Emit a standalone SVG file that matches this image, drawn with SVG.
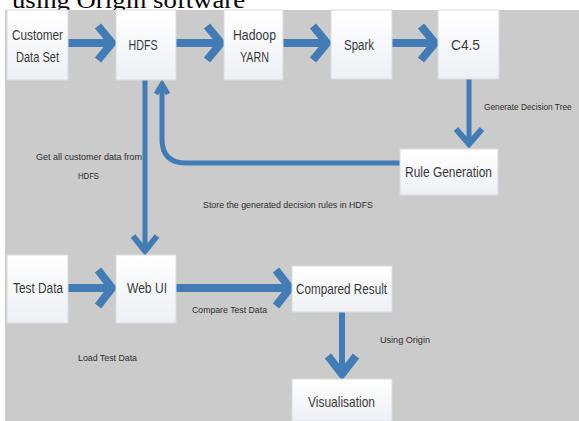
<svg xmlns="http://www.w3.org/2000/svg" width="579" height="421" viewBox="0 0 579 421">
<defs>
<linearGradient id="nodeFill" x1="0" y1="0" x2="0" y2="1">
<stop offset="0" stop-color="#ffffff"/>
<stop offset="1" stop-color="#eef0f5"/>
</linearGradient>
<style>
.bg{fill:#cbcbcb}
.node{fill:url(#nodeFill);stroke:#d8dbe0;stroke-width:1}
.nt{font-family:"Liberation Sans",Arial,sans-serif;font-size:14px;fill:#3a3a3a;text-anchor:middle}
.lbl{font-family:"Liberation Sans",Arial,sans-serif;font-size:9px;fill:#2e2e2e}
.cap{font-family:"Liberation Serif","Times New Roman",serif;font-size:24px;fill:#000}
.thick{fill:none;stroke:#417cb6;stroke-width:8}
.mid{fill:none;stroke:#417cb6;stroke-width:6}
.thin{fill:none;stroke:#417cb6;stroke-width:5}
</style>
</defs>
<text class="cap" x="12" y="8" textLength="233" lengthAdjust="spacingAndGlyphs">using Origin software</text>
<rect class="bg" x="5" y="10" width="574" height="411"/>

<g id="connectors">
<path class="thick" d="M68,43 H110"/>
<path class="thick" d="M98,26 L112,43 L98,60"/>
<path class="thick" d="M176,43 H220"/>
<path class="thick" d="M207,26 L221,43 L207,60"/>
<path class="thick" d="M283,43 H327"/>
<path class="thick" d="M313,26 L327,43 L313,60"/>
<path class="thick" d="M392,43 H434"/>
<path class="thick" d="M421,26 L435,43 L421,60"/>
<path class="thin" d="M469,79 V143"/>
<path class="mid" d="M456,129 L469,144 L482,129"/>
<path class="thin" d="M400,163 H186 Q162,163 162,139 V84"/>
<path class="thin" d="M156,94 L162,84 L168,94"/>
<path class="thin" d="M145,80 V250"/>
<path class="mid" d="M133,236 L145,251 L157,236"/>
<path class="thick" d="M68,288 H110"/>
<path class="thick" d="M98,270 L112,288 L98,306"/>
<path class="thick" d="M176,288 H287"/>
<path class="thick" d="M276,270 L290,288 L276,306"/>
<path class="mid" d="M342,312 V374"/>
<path class="thick" d="M328,356 L342,374 L356,356"/>
</g>

<g id="node-customer">
<rect class="node" x="7" y="10" width="61" height="70"/>
<text class="nt" x="37.5" y="40" textLength="51" lengthAdjust="spacingAndGlyphs">Customer</text>
<text class="nt" x="37.5" y="62" textLength="43" lengthAdjust="spacingAndGlyphs">Data Set</text>
</g>
<g id="node-hdfs">
<rect class="node" x="116" y="10" width="60" height="70"/>
<text class="nt" x="143" y="50" textLength="29" lengthAdjust="spacingAndGlyphs">HDFS</text>
</g>
<g id="node-yarn">
<rect class="node" x="224" y="10" width="59" height="70"/>
<text class="nt" x="254.5" y="40" textLength="43" lengthAdjust="spacingAndGlyphs">Hadoop</text>
<text class="nt" x="254.5" y="62" textLength="29" lengthAdjust="spacingAndGlyphs">YARN</text>
</g>
<g id="node-spark">
<rect class="node" x="331" y="10" width="61" height="69"/>
<text class="nt" x="359" y="50" textLength="30" lengthAdjust="spacingAndGlyphs">Spark</text>
</g>
<g id="node-c45">
<rect class="node" x="438" y="10" width="61" height="69"/>
<text class="nt" x="465.5" y="50" textLength="29" lengthAdjust="spacingAndGlyphs">C4.5</text>
</g>
<g id="node-rule">
<rect class="node" x="400" y="149" width="98" height="46"/>
<text class="nt" x="448.5" y="177" style="font-size:15px" textLength="87" lengthAdjust="spacingAndGlyphs">Rule Generation</text>
</g>
<g id="node-test">
<rect class="node" x="7" y="255" width="61" height="68"/>
<text class="nt" x="38" y="293" textLength="50" lengthAdjust="spacingAndGlyphs">Test Data</text>
</g>
<g id="node-webui">
<rect class="node" x="116" y="255" width="60" height="68"/>
<text class="nt" x="147" y="293" textLength="40" lengthAdjust="spacingAndGlyphs">Web UI</text>
</g>
<g id="node-compared">
<rect class="node" x="292" y="266" width="100" height="46"/>
<text class="nt" x="341.5" y="294" style="font-size:15px" textLength="91" lengthAdjust="spacingAndGlyphs">Compared Result</text>
</g>
<g id="node-vis">
<rect class="node" x="292" y="379" width="100" height="42"/>
<text class="nt" x="341.5" y="407" style="font-size:15px" textLength="67" lengthAdjust="spacingAndGlyphs">Visualisation</text>
</g>

<g id="labels">
<text class="lbl" x="484" y="110" style="font-size:8.3px">Generate Decision Tree</text>
<text class="lbl" x="89" y="160" text-anchor="middle" textLength="106" lengthAdjust="spacingAndGlyphs">Get all customer data from</text>
<text class="lbl" x="88.5" y="179" text-anchor="middle" textLength="21" lengthAdjust="spacingAndGlyphs">HDFS</text>
<text class="lbl" x="203" y="208" textLength="170" lengthAdjust="spacingAndGlyphs">Store the generated decision rules in HDFS</text>
<text class="lbl" x="192" y="313" textLength="75" lengthAdjust="spacingAndGlyphs">Compare Test Data</text>
<text class="lbl" x="78" y="361" textLength="59" lengthAdjust="spacingAndGlyphs">Load Test Data</text>
<text class="lbl" x="380" y="343" textLength="50" lengthAdjust="spacingAndGlyphs">Using Origin</text>
</g>
</svg>
